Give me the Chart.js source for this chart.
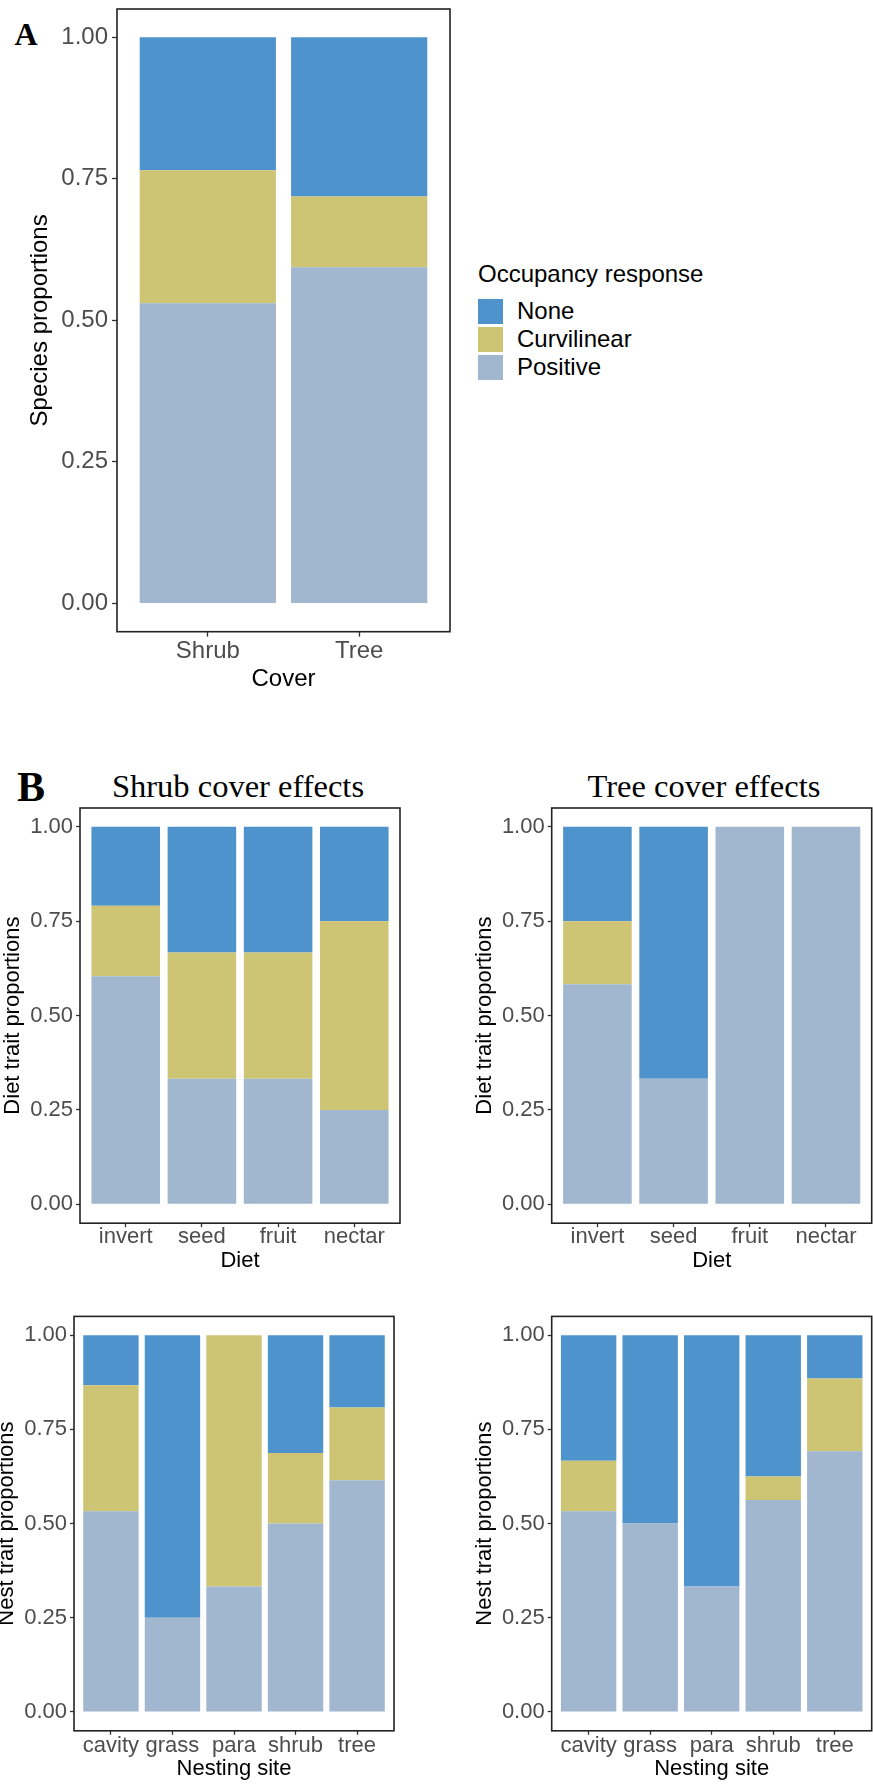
<!DOCTYPE html>
<html>
<head>
<meta charset="utf-8">
<script src="https://cdn.jsdelivr.net/npm/chart.js@4.4.0/dist/chart.umd.min.js"></script>
<style>
  html, body { margin: 0; padding: 0; background: #fff; }
  #page { position: relative; width: 873px; height: 1786px; overflow: hidden; }
  canvas { position: absolute; }
  .tag, .ptitle { position: absolute; font-family: 'Liberation Serif', 'Times New Roman', serif; color: #000;
    line-height: 1; white-space: nowrap; transform: translate(-50%, -50%); }
  .tag { font-weight: bold; }
  .ptitle { font-size: 32.5px; }
  #legend { position: absolute; left: 478px; top: 258px; font-family: 'Liberation Sans', Arial, sans-serif; color: #000; }
  #legend .ltitle { font-size: 24px; line-height: 32px; height: 32px; margin-bottom: 7px; }
  #legend .item { height: 28px; display: flex; align-items: center; }
  #legend .sw { width: 25px; height: 25px; margin-right: 14px; }
  #legend .lab { font-size: 24px; line-height: 28px; }
</style>
</head>
<body>
<div id="page">
  <div class="tag" style="left:26px; top:34px; font-size:32px;">A</div>
  <canvas id="chartA"></canvas>
  <div id="legend"></div>

  <div class="tag" style="left:31px; top:787px; font-size:42px;">B</div>
  <div class="ptitle" style="left:238px; top:786px;">Shrub cover effects</div>
  <div class="ptitle" style="left:704px; top:786px;">Tree cover effects</div>
  <canvas id="shrubDiet"></canvas>
  <canvas id="treeDiet"></canvas>
  <canvas id="shrubNest"></canvas>
  <canvas id="treeNest"></canvas>
</div>
<script>
// categories
const coverCats = ['Shrub', 'Tree'];
const dietCats = ['invert', 'seed', 'fruit', 'nectar'];
const nestCats = ['cavity', 'grass', 'para', 'shrub', 'tree'];
const yTicks = [0, 0.25, 0.5, 0.75, 1];

// legend order (top to bottom); bars stack Positive, Curvilinear, None from the bottom
const legendOrder = ['None', 'Curvilinear', 'Positive'];
const responseColors = { None: '#4f93cc', Curvilinear: '#cdc574', Positive: '#a1b6cf' };

// A: cover
const coverPositive = [0.530, 0.594];
const coverCurvilinear = [0.235, 0.125];
const coverNone = [0.235, 0.281];

// B: diet
const shrubDietPositive = [0.604, 0.333, 0.333, 0.25];
const shrubDietCurvilinear = [0.187, 0.334, 0.334, 0.5];
const shrubDietNone = [0.209, 0.333, 0.333, 0.25];
const treeDietPositive = [0.583, 0.333, 1, 1];
const treeDietCurvilinear = [0.167, 0, 0, 0];
const treeDietNone = [0.25, 0.667, 0, 0];

// B: nesting site
const shrubNestPositive = [0.533, 0.25, 0.333, 0.5, 0.615];
const shrubNestCurvilinear = [0.334, 0, 0.667, 0.1875, 0.193];
const shrubNestNone = [0.133, 0.75, 0, 0.3125, 0.192];
const treeNestPositive = [0.533, 0.5, 0.333, 0.5625, 0.692];
const treeNestCurvilinear = [0.134, 0, 0, 0.0625, 0.193];
const treeNestNone = [0.333, 0.5, 0.667, 0.375, 0.115];

const SANS = "'Liberation Sans', Arial, Helvetica, sans-serif";

// ggplot-like panel border
const panelBox = {
    id: 'panelBox',
    afterDatasetsDraw(chart) {
        const a = chart.chartArea, c = chart.ctx;
        c.save();
        c.strokeStyle = '#222';
        c.lineWidth = 1.6;
        c.strokeRect(a.left, a.top, a.right - a.left, a.bottom - a.top);
        c.restore();
    }
};

function makeChart(id, L, cats, positive, curvilinear, none, xTitle, yTitle) {
    const el = document.getElementById(id);
    el.width = L.w;
    el.height = L.h;
    el.style.left = L.x + 'px';
    el.style.top = L.y + 'px';

    const series = { Positive: positive, Curvilinear: curvilinear, None: none };
    const datasets = ['Positive', 'Curvilinear', 'None'].map(name => ({
        label: name,
        data: series[name].map((v, i) => ({ x: i + 1, y: v })),
        backgroundColor: responseColors[name],
        borderWidth: 0,
        categoryPercentage: 1,
        barPercentage: 0.9
    }));

    const zeroPad = sc => { sc.paddingTop = 0; sc.paddingBottom = 0; sc.paddingLeft = 0; sc.paddingRight = 0; };

    return new Chart(el, {
        type: 'bar',
        data: { datasets: datasets },
        plugins: [panelBox],
        options: {
            responsive: false,
            animation: false,
            devicePixelRatio: 1,
            layout: {
                autoPadding: false,
                padding: { left: 0, top: L.pt - L.y, right: L.x + L.w - L.pr, bottom: 0 }
            },
            plugins: { legend: { display: false }, tooltip: { enabled: false } },
            scales: {
                x: {
                    type: 'linear',
                    stacked: true,
                    offset: false,
                    min: 0.4,
                    max: cats.length + 0.6,
                    afterBuildTicks: sc => { sc.ticks = cats.map((c, i) => ({ value: i + 1 })); },
                    afterFit: sc => { sc.height = L.y + L.h - L.pb; zeroPad(sc); },
                    ticks: {
                        autoSkip: false, maxRotation: 0, minRotation: 0,
                        callback: v => cats[Math.round(v) - 1],
                        color: '#4d4d4d',
                        font: { family: SANS, size: L.tick },
                        padding: L.xPad
                    },
                    grid: { offset: false, drawOnChartArea: false, drawTicks: true, tickLength: L.tl,
                            tickColor: '#333', tickWidth: 1.3 },
                    border: { display: false },
                    title: {
                        display: true, text: xTitle, color: '#000',
                        font: { family: SANS, size: L.title, lineHeight: 1 },
                        padding: { top: 0, bottom: L.y + L.h - L.xTitleY - L.title / 2 }
                    }
                },
                y: {
                    type: 'linear',
                    stacked: true,
                    min: -0.05,
                    max: 1.05,
                    afterBuildTicks: sc => { sc.ticks = yTicks.map(v => ({ value: v })); },
                    afterFit: sc => { sc.width = L.pl - L.x; zeroPad(sc); },
                    ticks: {
                        callback: v => v.toFixed(2),
                        color: '#4d4d4d',
                        font: { family: SANS, size: L.tick },
                        padding: L.yPad
                    },
                    grid: { drawOnChartArea: false, drawTicks: true, tickLength: L.tl,
                            tickColor: '#333', tickWidth: 1.3 },
                    border: { display: false },
                    title: {
                        display: true, text: yTitle, color: '#000',
                        font: { family: SANS, size: L.title, lineHeight: 1 },
                        padding: { top: L.yTitleX - L.x - L.title / 2, bottom: 0 }
                    }
                }
            }
        }
    });
}

// panel A
makeChart('chartA',
    { x: 0, y: 0, w: 460, h: 694, pl: 117, pt: 9, pr: 450, pb: 631.7,
      tick: 24, title: 24, tl: 5, xPad: 0, yPad: 4, xTitleY: 679, yTitleX: 40 },
    coverCats, coverPositive, coverCurvilinear, coverNone, 'Cover', 'Species proportions');

// panel B
const bTop = { y: 790, h: 484, pt: 808, pb: 1223.2, tick: 22, title: 22, tl: 4, xPad: -3, yPad: 3, xTitleY: 1261 };
const bBot = { y: 1300, h: 486, pt: 1316.4, pb: 1730.8, tick: 22, title: 22, tl: 4, xPad: -2, yPad: 3, xTitleY: 1769 };

makeChart('shrubDiet', Object.assign({ x: 0, w: 410, pl: 80, pr: 400, yTitleX: 13 }, bTop),
    dietCats, shrubDietPositive, shrubDietCurvilinear, shrubDietNone, 'Diet', 'Diet trait proportions');
makeChart('treeDiet', Object.assign({ x: 440, w: 433, pl: 551.7, pr: 871.7, yTitleX: 484.5 }, bTop),
    dietCats, treeDietPositive, treeDietCurvilinear, treeDietNone, 'Diet', 'Diet trait proportions');
makeChart('shrubNest', Object.assign({ x: -10, w: 414, pl: 74, pr: 394, yTitleX: 6.5 }, bBot),
    nestCats, shrubNestPositive, shrubNestCurvilinear, shrubNestNone, 'Nesting site', 'Nest trait proportions');
makeChart('treeNest', Object.assign({ x: 440, w: 433, pl: 551.7, pr: 871.7, yTitleX: 484.5 }, bBot),
    nestCats, treeNestPositive, treeNestCurvilinear, treeNestNone, 'Nesting site', 'Nest trait proportions');

// legend for panel A
const legend = document.getElementById('legend');
legend.innerHTML = '<div class="ltitle">Occupancy response</div>' +
    legendOrder.map(name =>
        `<div class="item"><div class="sw" style="background:${responseColors[name]}"></div><span class="lab">${name}</span></div>`
    ).join('');
</script>
</body>
</html>
